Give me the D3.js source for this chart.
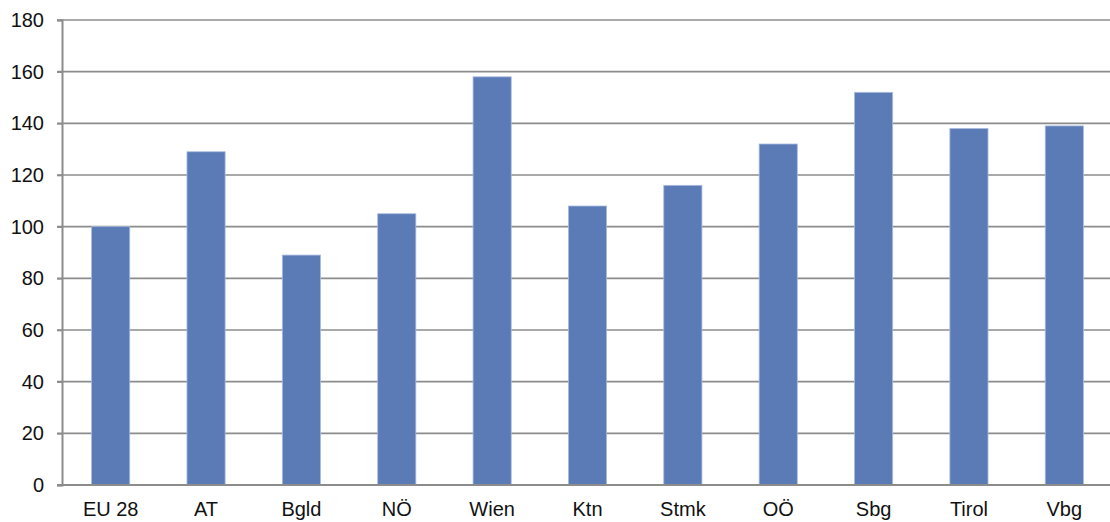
<!DOCTYPE html>
<html><head><meta charset="utf-8">
<script src="https://cdn.jsdelivr.net/npm/d3@7"></script>
<style>body{margin:0;background:#fff}svg{display:block}text{font-family:"Liberation Sans",Arial,sans-serif}</style>
</head><body><svg id="c" width="1110" height="522"></svg>
<script>
const categories = ["EU 28","AT","Bgld","NÖ","Wien","Ktn","Stmk","OÖ","Sbg","Tirol","Vbg"];
const values = [100,129,89,105,158,108,116,132,152,138,139];
const yTicks = [0,20,40,60,80,100,120,140,160,180];

const svg = d3.select("#c");
const m = {l:62, t:20, b:37};
const W = 1110, H = 522;
const x = d3.scaleBand().domain(categories).range([m.l + 1, 1112]).paddingInner(0.6).paddingOuter(0.3);
const y = d3.scaleLinear().domain([0,180]).range([H - m.b, m.t]);

// gridlines
svg.append("g").selectAll("line").data(yTicks.filter(d=>d>0)).join("line")
  .attr("x1", m.l - 5).attr("x2", W)
  .attr("y1", d=>y(d)).attr("y2", d=>y(d))
  .attr("stroke", "#8c8c8c").attr("stroke-width", 1.6);

// bars
svg.append("g").selectAll("rect").data(values).join("rect")
  .attr("x", (d,i)=>x(categories[i]))
  .attr("width", x.bandwidth())
  .attr("y", d=>y(d))
  .attr("height", d=>y(0)-y(d))
  .attr("fill", "#5b7bb7")
  .attr("stroke", "#a9bbdd").attr("stroke-width", 0.8);

// y axis
const ya = d3.axisLeft(y).tickValues(yTicks).tickSize(5).tickPadding(13);
const gy = svg.append("g").attr("transform", `translate(${m.l},0)`).call(ya);
gy.select(".domain").attr("stroke", "#8c8c8c").attr("stroke-width", 2);
gy.selectAll(".tick line").attr("stroke", "#8c8c8c").attr("stroke-width", 1.6);
gy.selectAll(".tick text").attr("font-size", 20).attr("fill", "#111");

// x axis
const xa = d3.axisBottom(x).tickSize(0).tickPadding(17);
const gx = svg.append("g").attr("transform", `translate(0,${y(0)})`).call(xa);
gx.select(".domain").attr("stroke", "#8c8c8c").attr("stroke-width", 2).attr("d", `M${m.l-5},0H${W}`);
gx.selectAll(".tick text").attr("font-size", 20).attr("fill", "#111");
</script></body></html>
